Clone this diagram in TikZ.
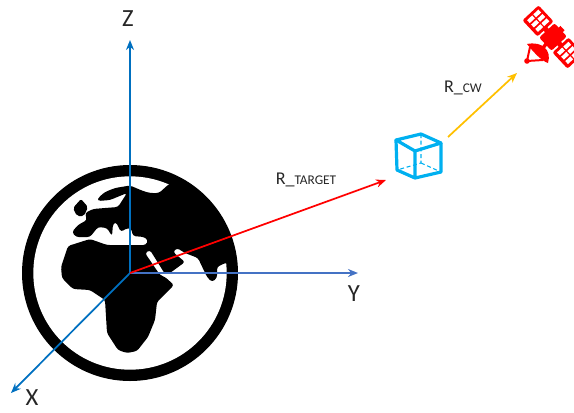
\documentclass[tikz,border=0pt]{standalone}
\usepackage{fontspec}
\setmainfont{Carlito}
\usetikzlibrary{arrows.meta, calc}
\definecolor{axisblue}{HTML}{0070C0}
\definecolor{yaxisblue}{HTML}{4472C4}
\definecolor{targetred}{HTML}{FF0000}
\definecolor{cwamber}{HTML}{FFC000}
\definecolor{cubecyan}{HTML}{00B0F0}
\tikzset{
  arr/.style={-{Stealth[length=7.5pt,width=6pt]}, line width=1.3pt},
  axlabel/.style={font=\fontsize{18.5}{20}\selectfont, text=black!85, inner sep=0pt},
  veclabel/.style={font=\fontsize{13.5}{15}\selectfont, text=black!85, inner sep=0pt},
  cubeedge/.style={draw=cubecyan, line width=2.4pt, line join=round},
  cubehidden/.style={draw=cubecyan, line width=0.8pt, densely dashed},
}
\newcommand{\smalltxt}[1]{{\fontsize{10}{11}\selectfont #1}}
\begin{document}
\begin{tikzpicture}[x=0.75pt, y=-0.75pt]
  \useasboundingbox (0,0) rectangle (574,412);

  % Earth
  \coordinate (O) at (130,273);
  \fill[black] (O) circle[radius=81pt];
  \fill[white] (O) circle[radius=72.5pt];
  \begin{scope}
    \clip (O) circle[radius=73.5pt];
    \fill[black, rounded corners=2pt] (98,198) -- (105,192) -- (115,188) -- (130,185.5) -- (143,191) -- (150,193) -- (159,193) -- (169,184)
      -- (250,165) -- (250,263) -- (225,263) -- (217,267) -- (217,278) -- (212,282) -- (207,277) -- (198,258) -- (185,253) -- (177,248) -- (173,252)
      -- (185,262) -- (170,273) -- (165,274) -- (150,250) -- (145,253) -- (160,275) -- (165,277) -- (174,285)
      -- (157,302) -- (155,320) -- (148,337) -- (137,351) -- (127,353) -- (118,350) -- (107,333) -- (105,300) -- (90,290) -- (73,289)
      -- (62,278) -- (61,267) -- (68,246) -- (90,239) -- (107,245) -- (117,245) -- (130,245) -- (146,245) -- (148,240) -- (144,237)
      -- (133,236) -- (131,228) -- (125,229) -- (121,232) -- (116,222) -- (113,224) -- (112,236) -- (107,228) -- (98,227) -- (90,237)
      -- (76,237) -- (72,232) -- (78,225) -- (87,220) -- (85,213) -- (93,209) -- (105,208) -- (118,207) -- (127,193) -- (110,200) -- (98,201) -- cycle;
    \fill[black, rounded corners=1.5pt] (73,208) -- (81,199) -- (88,207) -- (84,216) -- (77,216) -- cycle;
  \end{scope}

  % Cube
  \coordinate (cubeA) at (396,140);
  \coordinate (cubeB) at (421,134);
  \coordinate (cubeC) at (441,143);
  \coordinate (cubeD) at (415,151);
  \coordinate (cubeE) at (397,170);
  \coordinate (cubeF) at (415,178);
  \coordinate (cubeG) at (441,172);
  \coordinate (cubeH) at (421,163);
  \draw[cubehidden] (cubeB) -- (cubeH) -- (cubeE) (cubeH) -- (cubeG);
  \draw[cubeedge] (cubeA) -- (cubeB) -- (cubeC) -- (cubeD) -- cycle;
  \draw[cubeedge] (cubeA) -- (cubeE) -- (cubeF) -- (cubeG) -- (cubeC) (cubeD) -- (cubeF);

  % Satellite
  \begin{scope}[shift={(553,37)}, rotate=-47]
    \fill[targetred] (-12,-2.5) rectangle (12,2.5);
    \fill[targetred, rounded corners=1.5pt] (-9,-10.5) rectangle (9,10.5);
    \fill[targetred] (-3,-13) rectangle (3,-10);
    \foreach \p in {-33,11} {
      \fill[targetred, rounded corners=1.5pt] (\p,-11) rectangle ++(22,22);
      \foreach \cx in {0,1,2} {
        \foreach \cy in {0,1} {
          \fill[white] ($(\p,-11)+(3+6*\cx,3+8.5*\cy)$) rectangle ++(4,7);
        }
      }
    }
  \end{scope}
  \fill[targetred] (527,44) .. controls (542,41) and (552,50) .. (548,63) .. controls (542,61) and (535,54) .. cycle;
  \fill[targetred] (527,61) circle[radius=2.8];
  \draw[targetred, line width=1.5pt] (530,47) -- (527,61) -- (543,60);
  \draw[targetred, line width=2.6pt] (540,52) -- (546,44);

  % Axes and vectors
  \coordinate (zend) at (130,40);
  \coordinate (yend) at (358,273);
  \coordinate (xend) at (11,393);
  \coordinate (targetend) at (386,180);
  \coordinate (cwstart) at (448,137);
  \coordinate (cwend) at (517,73);
  \draw[arr, axisblue] (O) -- (zend);
  \draw[arr, axisblue] (O) -- (xend);
  \draw[arr, yaxisblue] (O) -- (yend);
  \draw[arr, targetred] (O) -- (targetend);
  \draw[arr, cwamber] (cwstart) -- (cwend);

  % Labels
  \node[axlabel] (zlabel) at (128,19) {Z};
  \node[axlabel] (ylabel) at (354,294) {Y};
  \node[axlabel] (xlabel) at (32,398) {X};
  \node[veclabel] (targetlabel) at (306,180) {R\_\smalltxt{TARGET}};
  \node[veclabel] (cwlabel) at (463,88) {R\_\smalltxt{CW}};
\end{tikzpicture}
\end{document}
